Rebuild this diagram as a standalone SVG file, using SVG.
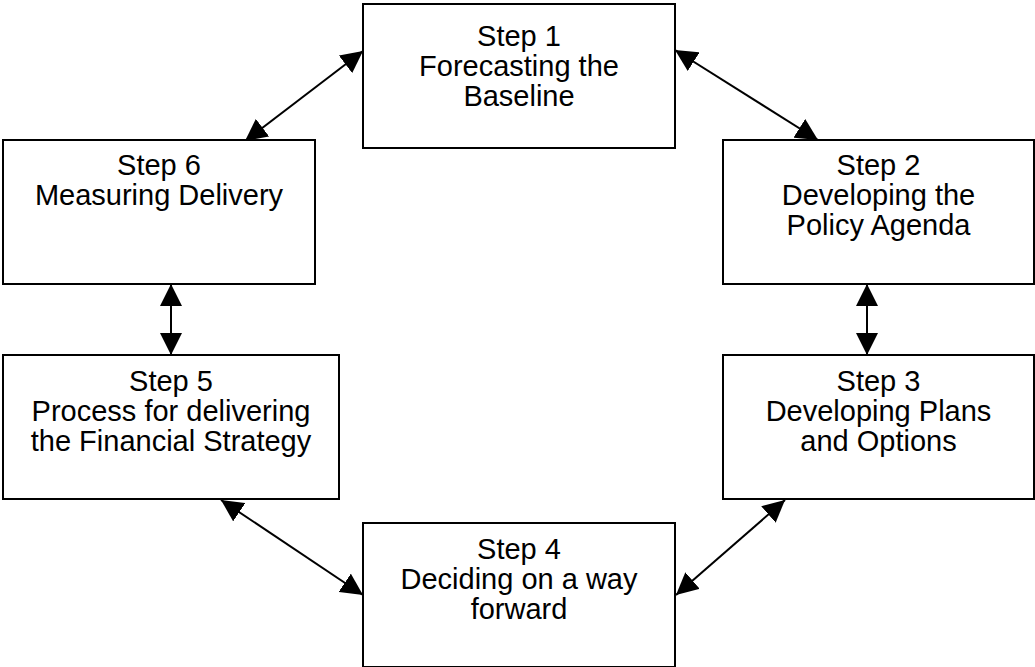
<svg xmlns="http://www.w3.org/2000/svg" width="1035" height="667" viewBox="0 0 1035 667">
<style>
.box{fill:#fff;stroke:#000;stroke-width:2}
.t{font-family:"Liberation Sans",Arial,sans-serif;font-size:29px;fill:#000;text-anchor:middle}
.c{stroke:#000;stroke-width:2;fill:none;marker-start:url(#ah);marker-end:url(#ah)}
</style>
<defs>
<marker id="ah" markerUnits="userSpaceOnUse" markerWidth="22" markerHeight="22" viewBox="0 0 20 20" refX="20" refY="10" orient="auto-start-reverse">
<path d="M0,0 L20,10 L0,20 Z" fill="#000"/>
</marker>
</defs>
<rect width="1035" height="667" fill="#fff"/>
<g id="connectors">
<line class="c" x1="245" y1="141" x2="363" y2="51"/>
<line class="c" x1="675" y1="50" x2="818" y2="140"/>
<line class="c" x1="867" y1="284" x2="867" y2="355"/>
<line class="c" x1="171" y1="284" x2="171" y2="355"/>
<line class="c" x1="221" y1="500" x2="363" y2="595"/>
<line class="c" x1="785" y1="500" x2="676" y2="595"/>
</g>
<g id="step1">
<rect class="box" x="363" y="4" width="312" height="144"/>
<text class="t" x="519" y="46">Step 1</text>
<text class="t" x="519" y="76">Forecasting the</text>
<text class="t" x="519" y="106">Baseline</text>
</g>
<g id="step2">
<rect class="box" x="723" y="140" width="311" height="144"/>
<text class="t" x="878.5" y="175">Step 2</text>
<text class="t" x="878.5" y="205">Developing the</text>
<text class="t" x="878.5" y="235">Policy Agenda</text>
</g>
<g id="step3">
<rect class="box" x="723" y="355" width="311" height="144"/>
<text class="t" x="878.5" y="391">Step 3</text>
<text class="t" x="878.5" y="421">Developing Plans</text>
<text class="t" x="878.5" y="451">and Options</text>
</g>
<g id="step4">
<rect class="box" x="363" y="523" width="312" height="144"/>
<text class="t" x="519" y="559">Step 4</text>
<text class="t" x="519" y="589">Deciding on a way</text>
<text class="t" x="519" y="619">forward</text>
</g>
<g id="step5">
<rect class="box" x="3" y="355" width="336" height="144"/>
<text class="t" x="171" y="391">Step 5</text>
<text class="t" x="171" y="421">Process for delivering</text>
<text class="t" x="171" y="451">the Financial Strategy</text>
</g>
<g id="step6">
<rect class="box" x="3" y="140" width="312" height="144"/>
<text class="t" x="159" y="175">Step 6</text>
<text class="t" x="159" y="205">Measuring Delivery</text>
</g>
</svg>
